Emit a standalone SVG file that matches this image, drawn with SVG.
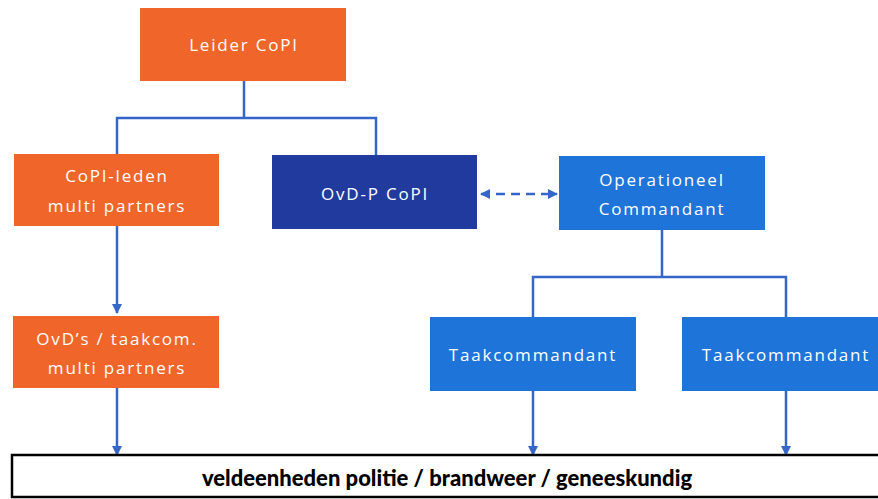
<svg xmlns="http://www.w3.org/2000/svg" width="878" height="499" viewBox="0 0 878 499">
<defs>
<style>
.or{fill:#F0652A}
.db{fill:#213A9E}
.bl{fill:#1F74DA}
.t{font-family:"Open Sans","Liberation Sans",sans-serif;font-size:17px;fill:#ffffff;text-anchor:middle;letter-spacing:1.8px}
.c{fill:none;stroke:#3567C8;stroke-width:2.5}
.b{font-family:Lato,"Liberation Sans",sans-serif;font-weight:900;font-size:22px;fill:#000;text-anchor:middle}
</style>
<marker id="ah" viewBox="0 0 10 10" refX="9" refY="5" markerWidth="4" markerHeight="4" orient="auto-start-reverse" markerUnits="strokeWidth">
<path d="M0,0 L10,5 L0,10 z" fill="#3567C8"/>
</marker>
</defs>
<rect width="878" height="499" fill="#ffffff"/>
<g id="connectors">
<path class="c" d="M244,81 V118 M117,155 V118 H376 V155"/>
<path class="c" d="M117,226 V313" marker-end="url(#ah)"/>
<path class="c" d="M662,230 V277 M533,317 V277 H786 V317"/>
<path class="c" d="M117,388 V455" marker-end="url(#ah)"/>
<path class="c" d="M533,391 V455" marker-end="url(#ah)"/>
<path class="c" d="M786,391 V455" marker-end="url(#ah)"/>
<path class="c" d="M481,194 H557" stroke-dasharray="9,6" marker-start="url(#ah)" marker-end="url(#ah)"/>
</g>
<g id="leider">
<rect class="or" x="140" y="8" width="206" height="73"/>
<text class="t" x="244" y="51">Leider CoPI</text>
</g>
<g id="copi-leden">
<rect class="or" x="14" y="154" width="205" height="72"/>
<text class="t" x="117" y="182">CoPI-leden</text>
<text class="t" x="117" y="212">multi partners</text>
</g>
<g id="ovd-p">
<rect class="db" x="272" y="155" width="205" height="74"/>
<text class="t" x="375" y="200">OvD-P CoPI</text>
</g>
<g id="operationeel">
<rect class="bl" x="559" y="156" width="206" height="74"/>
<text class="t" x="662" y="186">Operationeel</text>
<text class="t" x="662" y="215">Commandant</text>
</g>
<g id="ovds">
<rect class="or" x="13" y="316" width="206" height="72"/>
<text class="t" x="117" y="345">OvD’s / taakcom.</text>
<text class="t" x="117" y="374">multi partners</text>
</g>
<g id="taak1">
<rect class="bl" x="430" y="317" width="206" height="74"/>
<text class="t" x="533" y="361">Taakcommandant</text>
</g>
<g id="taak2">
<rect class="bl" x="682" y="317" width="200" height="74"/>
<text class="t" x="786" y="361">Taakcommandant</text>
</g>
<g id="veldeenheden">
<rect x="12" y="455" width="870" height="42" fill="#ffffff" stroke="#000" stroke-width="2.5"/>
<text class="b" x="447" y="486">veldeenheden politie / brandweer / geneeskundig</text>
</g>
</svg>
